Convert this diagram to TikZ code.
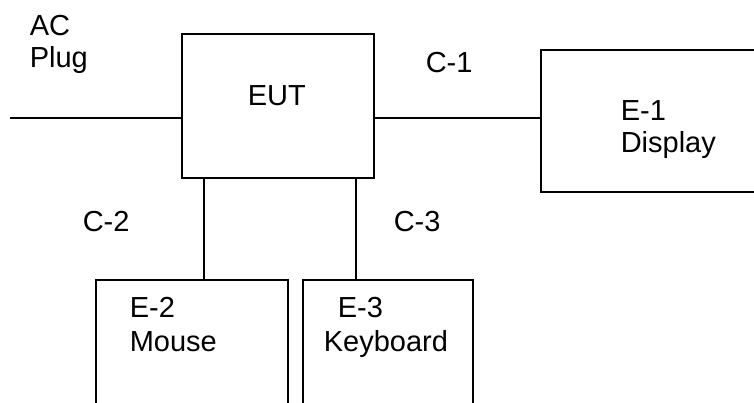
\documentclass[tikz,border=0pt]{standalone}
\usepackage{fontspec}
\setmainfont{Liberation Sans}
\begin{document}
\begin{tikzpicture}[x=1pt,y=-1pt,
  line width=1.6pt,
  box/.style={draw, rectangle, inner sep=0pt, outer sep=0pt, line width=1.6pt},
  lbl/.style={anchor=base west, inner sep=0pt, font=\fontsize{29}{33}\selectfont}]
\useasboundingbox (0,0) rectangle (754,403);
\clip (0,0) rectangle (754,403);
% boxes
\node[box, minimum width=192pt, minimum height=144pt] (eut) at (278,106) {};
\node[box, minimum width=222pt, minimum height=142pt] (e1) at (652,121) {};
\node[box, minimum width=192pt, minimum height=140pt] (e2) at (192,350) {};
\node[box, minimum width=170pt, minimum height=140pt] (e3) at (388,350) {};
% connector end points
\coordinate (acend) at (10,118);
\coordinate (c1y) at (0,118);
\coordinate (c2x) at (204,0);
\coordinate (c3x) at (356,0);
% connectors
\draw (acend) -- (eut.west |- acend);
\draw (eut.east |- c1y) -- (e1.west |- c1y);
\draw (eut.south -| c2x) -- (e2.north -| c2x);
\draw (eut.south -| c3x) -- (e3.north -| c3x);
% texts
\node[lbl] (tac) at (29,35.5) {AC};
\node[lbl] (tplug) at (29,67.5) {Plug};
\node[lbl] (teut) at (247,106) {EUT};
\node[lbl] (tc1) at (425,73) {C-1};
\node[lbl] (te1) at (620,121) {E-1};
\node[lbl] (tdisp) at (620,153) {Display};
\node[lbl] (tc2) at (82,231.5) {C-2};
\node[lbl] (tc3) at (393,231.5) {C-3};
\node[lbl] (te2) at (129,317) {E-2};
\node[lbl] (tmouse) at (129,351.5) {Mouse};
\node[lbl] (te3) at (337,317) {E-3};
\node[lbl] (tkbd) at (323,351.5) {Keyboard};
\end{tikzpicture}
\end{document}
